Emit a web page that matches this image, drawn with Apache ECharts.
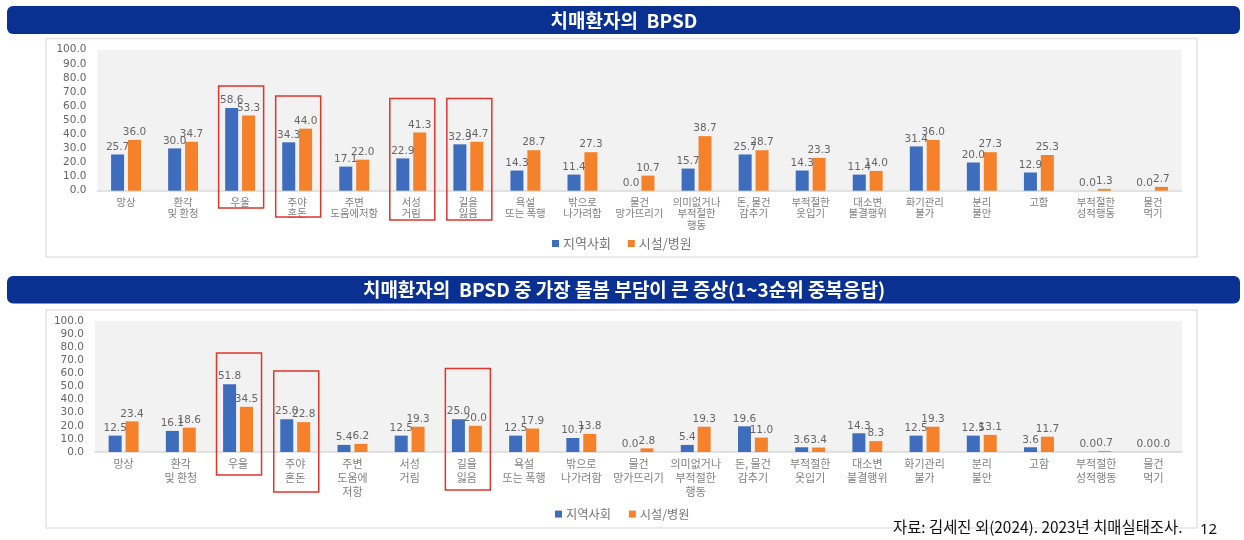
<!DOCTYPE html>
<html><head><meta charset="utf-8">
<style>html,body{margin:0;padding:0;background:#fff}#c{width:1244px;height:540px}</style>
<script src="https://cdn.jsdelivr.net/npm/echarts@6/dist/echarts.min.js"></script>
</head><body><div id="c"></div>
<script>
const title1 = '치매환자의  BPSD';
const title2 = '치매환자의  BPSD 중 가장 돌봄 부담이 큰 증상(1~3순위 중복응답)';
const source = '자료: 김세진 외(2024). 2023년 치매실태조사.';
const pageNo = '12';
const seriesNames = ['지역사회', '시설/병원'];
const labels1 = ['망상','환각\n및 환청','우울','주야\n혼돈','주변\n도움에저항','서성\n거림','길을\n잃음','욕설\n또는 폭행','밖으로\n나가려함','물건\n망가뜨리기','의미없거나\n부적절한\n행동','돈, 물건\n감추기','부적절한\n옷입기','대소변\n불결행위','화기관리\n불가','분리\n불안','고함','부적절한\n성적행동','물건\n먹기'];
const labels2 = ['망상','환각\n및 환청','우울','주야\n혼돈','주변\n도움에\n저항','서성\n거림','길을\n잃음','욕설\n또는 폭행','밖으로\n나가려함','물건\n망가뜨리기','의미없거나\n부적절한\n행동','돈, 물건\n감추기','부적절한\n옷입기','대소변\n불결행위','화기관리\n불가','분리\n불안','고함','부적절한\n성적행동','물건\n먹기'];
const community1 = [25.7,30.0,58.6,34.3,17.1,22.9,32.9,14.3,11.4,0.0,15.7,25.7,14.3,11.4,31.4,20.0,12.9,0.0,0.0];
const facility1  = [36.0,34.7,53.3,44.0,22.0,41.3,34.7,28.7,27.3,10.7,38.7,28.7,23.3,14.0,36.0,27.3,25.3,1.3,2.7];
const community2 = [12.5,16.1,51.8,25.0,5.4,12.5,25.0,12.5,10.7,0.0,5.4,19.6,3.6,14.3,12.5,12.5,3.6,0.0,0.0];
const facility2  = [23.4,18.6,34.5,22.8,6.2,19.3,20.0,17.9,13.8,2.8,19.3,11.0,3.4,8.3,19.3,13.1,11.7,0.7,0.0];
const BLUE = '#3F6DBE', ORANGE = '#F5822A', NAVY = '#0A3192', RED = '#E0352B';
const NUM = '"DejaVu Sans"', KR = '"Noto Sans CJK KR"';

const chart = echarts.init(document.getElementById('c'), null, {renderer:'canvas'});
function bar(name, data, color, idx){
  return {name, type:'bar', data, xAxisIndex:idx, yAxisIndex:idx, barWidth:13, barGap:'30%',
    itemStyle:{color}, animation:false,
    label:{show:true, position:'top', distance:2, color:'#666', fontFamily:NUM, fontSize:10.5,
      formatter:p=>p.value.toFixed(1)}};
}
function xAxis(data, idx, size, lh, margin){
  return {type:'category', gridIndex:idx, data, axisTick:{show:false},
    axisLine:{lineStyle:{color:'#D9D9D9',width:1.5}},
    axisLabel:{interval:0, color:'#808080', fontFamily:KR, fontSize:size, lineHeight:lh, margin}};
}
function yAxis(idx){
  return {type:'value', gridIndex:idx, min:0, max:100, interval:10, splitLine:{show:false},
    axisLine:{show:false}, axisTick:{show:false},
    axisLabel:{color:'#666', fontFamily:NUM, fontSize:10.5, margin:11, formatter:v=>v.toFixed(1)}};
}
function banner(y, h){
  return {type:'rect', z:-5, shape:{x:7,y,width:1233,height:h,r:6}, style:{fill:NAVY}};
}
function bannerText(y, text, size){
  return {type:'text', z:50, x:624, y, style:{text, fill:'#fff', align:'center', verticalAlign:'middle',
    fontFamily:KR, fontWeight:'bold', fontSize:size}};
}
function panel(y,h){
  return {type:'rect', z:-5, shape:{x:46,y,width:1151,height:h}, style:{fill:'#fff',stroke:'#E3E3E3',lineWidth:1.5}};
}
function legend(left, top, size, gap){
  return {left, top, icon:'rect', itemWidth:7, itemHeight:7, itemGap:gap, data:seriesNames, selectedMode:false,
    textStyle:{color:'#777', fontFamily:KR, fontSize:size, padding:[0,0,0,-1]}};
}
chart.setOption({
  animation:false, backgroundColor:'#fff',
  grid:[
    {left:97.5, top:49.7, width:1084, height:141, show:true, backgroundColor:'#F2F2F2', borderWidth:0},
    {left:95, top:321, width:1087, height:131, show:true, backgroundColor:'#F2F2F2', borderWidth:0}
  ],
  legend:[legend(547,232,13,17), legend(550,503,12.2,18)],
  color:[BLUE,ORANGE],
  xAxis:[xAxis(labels1,0,10.4,11.8,5), xAxis(labels2,1,11,14,5)],
  yAxis:[yAxis(0),yAxis(1)],
  series:[bar(seriesNames[0],community1,BLUE,0), bar(seriesNames[1],facility1,ORANGE,0),
          bar(seriesNames[0],community2,BLUE,1), bar(seriesNames[1],facility2,ORANGE,1)]
});
const boxes = [
  {g:0,cat:2,top:86,bottom:208},{g:0,cat:3,top:96,bottom:217},{g:0,cat:5,top:98.5,bottom:220},{g:0,cat:6,top:98.5,bottom:220},
  {g:1,cat:2,top:353,bottom:475},{g:1,cat:3,top:371,bottom:492},{g:1,cat:6,top:368.5,bottom:490}
];
const boxEls = boxes.map(b=>{
  const cx = chart.convertToPixel({xAxisIndex:b.g}, b.cat) + 1;
  return {type:'rect', z:60, shape:{x:cx-22.5,y:b.top,width:45,height:b.bottom-b.top},
    style:{fill:'none',stroke:RED,lineWidth:1.5}};
});
chart.setOption({graphic:{elements:[
  banner(6,28), banner(276,27.5), panel(38.5,218.5), panel(310,218),
  bannerText(20.5,title1,19), bannerText(289.5,title2,19),
  {type:'text', z:50, x:893, y:527, style:{text:source, fill:'#111', fontFamily:KR, fontSize:15.4, verticalAlign:'middle', align:'left'}},
  {type:'text', z:50, x:1200, y:530, style:{text:pageNo, fill:'#111', fontFamily:'"Noto Sans"', fontSize:15, verticalAlign:'middle', align:'left'}},
  ...boxEls
]}});
</script></body></html>
